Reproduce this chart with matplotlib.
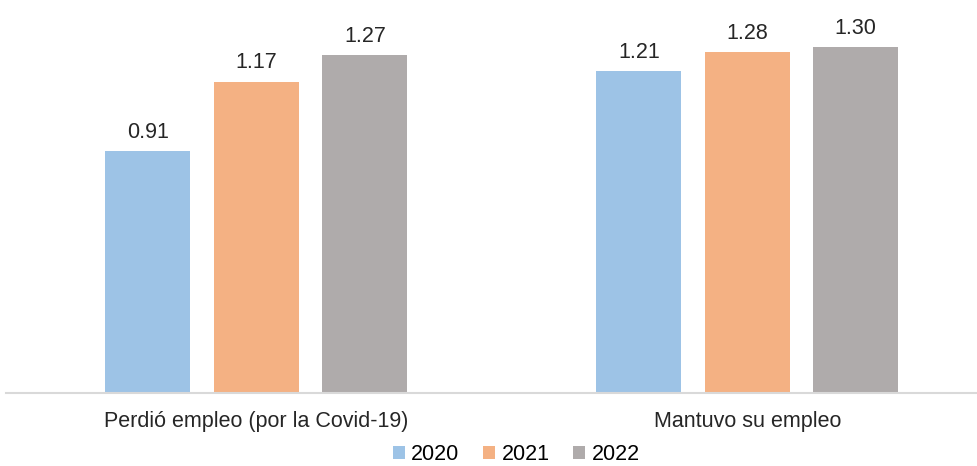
import numpy as np
import matplotlib.pyplot as plt

plt.rcParams['font.family'] = ['Liberation Sans', 'DejaVu Sans']

# Datos
categorias = ['Perdió empleo (por la Covid-19)', 'Mantuvo su empleo']
anios = ['2020', '2021', '2022']
v2020 = [0.91, 1.21]
v2021 = [1.17, 1.28]
v2022 = [1.27, 1.30]
colores = ['#9DC3E6', '#F4B183', '#AFABAB']

fig = plt.figure(figsize=(9.78, 4.66), dpi=100)
ax = fig.add_axes([6 / 978, 73 / 466, 972 / 978, 393 / 466])

x = np.arange(len(categorias))
ancho = 0.173
paso = 0.221
series = [v2020, v2021, v2022]
for i, (vals, c, a) in enumerate(zip(series, colores, anios)):
    barras = ax.bar(x + (i - 1) * paso, vals, ancho, color=c, label=a)
    for b, v in zip(barras, vals):
        ax.annotate(f'{v:.2f}', (b.get_x() + b.get_width() / 2, v),
                    xytext=(0, 6), textcoords='offset points',
                    ha='center', va='bottom', fontsize=15.5, color='#262626')

ax.set_xlim(-0.51, 1.47)
ax.set_ylim(0, 1.477)
ax.set_xticks(x)
ax.set_xticklabels(categorias, fontsize=15.5, color='#262626')
ax.tick_params(axis='x', length=0, pad=13)
ax.set_yticks([])
for s in ['top', 'right', 'left']:
    ax.spines[s].set_visible(False)
ax.spines['bottom'].set_color('#D9D9D9')
ax.spines['bottom'].set_linewidth(1.5)

fig.legend(loc='lower center', bbox_to_anchor=(0.528, 0.0), ncol=3,
           frameon=False, fontsize=15.5, handlelength=0.55, handleheight=0.55,
           handletextpad=0.3, columnspacing=1.1, borderpad=0.05,
           borderaxespad=0)

fig.savefig('out.png', dpi=100)
